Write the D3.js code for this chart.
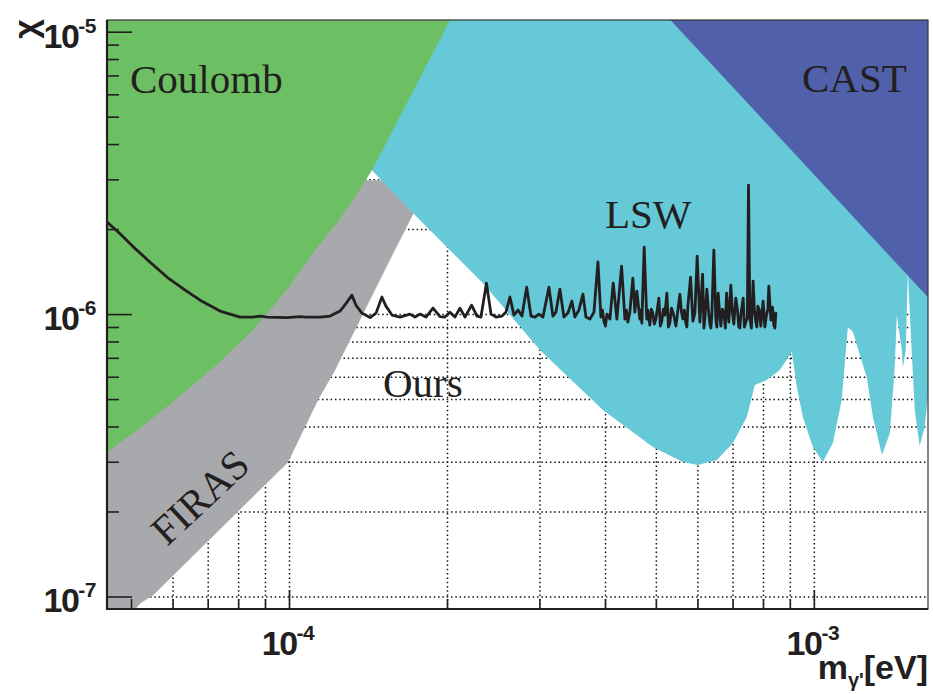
<!DOCTYPE html>
<html><head><meta charset="utf-8">
<script src="https://cdn.jsdelivr.net/npm/d3@7"></script>
<style>body{margin:0;background:#fff}</style>
</head><body>
<svg id="chart" width="933" height="694"></svg>
<script>
// ---------- data ----------
const xDomain = [4.5e-5, 1.65e-3];
const yDomain = [9.03e-8, 1.1e-5];

const xMajorTicks = [1e-4, 1e-3];
const xMajorExps = ["-4", "-3"];
const xMinorTicks = [5e-5, 6e-5, 7e-5, 8e-5, 9e-5, 2e-4, 3e-4, 4e-4, 5e-4, 6e-4, 7e-4, 8e-4, 9e-4];
const yMajorTicks = [1e-7, 1e-6, 1e-5];
const yMajorExps = ["-7", "-6", "-5"];
const yMinorTicks = [2e-7, 3e-7, 4e-7, 5e-7, 6e-7, 7e-7, 8e-7, 9e-7, 2e-6, 3e-6, 4e-6, 5e-6, 6e-6, 7e-6, 8e-6, 9e-6];

const coulombMass = [4.4e-5, 4.5e-5, 5.26e-5, 6.07e-5, 7.275e-5, 8.54e-5, 9.89e-5, 1.121e-4, 1.224e-4, 1.324e-4, 1.439e-4, 1.700e-4, 2.026e-4, 2.117e-4, 4.4e-5];
const coulombChi  = [3.1e-7, 3.25e-7, 4.013e-7, 4.96e-7, 6.60e-7, 8.78e-7, 1.216e-6, 1.684e-6, 2.065e-6, 2.532e-6, 3.234e-6, 5.86e-6, 1.098e-5, 1.292e-5, 1.292e-5];

const firasMass = [5.06e-5, 5.22e-5, 5.51e-5, 9.96e-5, 1.136e-4, 1.224e-4, 1.591e-4, 1.86e-4, 4.4e-5, 4.4e-5];
const firasChi  = [8.9e-8, 9.48e-8, 1.01e-7, 2.99e-7, 4.96e-7, 6.33e-7, 1.684e-6, 2.98e-6, 2.98e-6, 8.9e-8];

const lswMass = [7.39e-5, 1.439e-4, 1.722e-4, 2.342e-4, 3.006e-4, 3.963e-4, 4.935e-4, 5.629e-4, 6.012e-4, 6.533e-4,
  7.01e-4, 7.452e-4, 7.72e-4, 8.136e-4, 8.613e-4, 9.08e-4, 9.281e-4, 9.528e-4, 9.956e-4, 1.040e-3,
  1.087e-3, 1.130e-3, 1.161e-3, 1.187e-3, 1.262e-3, 1.296e-3, 1.348e-3, 1.396e-3, 1.426e-3, 1.439e-3,
  1.471e-3, 1.477e-3, 1.497e-3, 1.510e-3, 1.530e-3, 1.557e-3, 1.591e-3, 1.626e-3, 1.663e-3, 1.7e-3];
const lswChi = [1.221e-5, 3.234e-6, 2.278e-6, 1.287e-6, 7.458e-7, 4.572e-7, 3.382e-7, 2.993e-7, 2.921e-7, 3.042e-7,
  3.494e-7, 4.319e-7, 5.606e-7, 5.84e-7, 6.333e-7, 7.336e-7, 5.515e-7, 4.319e-7, 3.382e-7, 2.993e-7,
  3.494e-7, 4.96e-7, 8.994e-7, 8.637e-7, 5.937e-7, 4.319e-7, 3.168e-7, 3.792e-7, 6.49e-7, 9.92e-7,
  7.458e-7, 6.437e-7, 7.458e-7, 1.409e-6, 8.563e-7, 4.572e-7, 3.41e-7, 3.981e-7, 5.84e-7, 1.3e-5];

const castMass = [5.0e-4, 1.7e-3, 1.7e-3];
const castChi  = [1.25e-5, 1.08e-6, 1.25e-5];

const oursMass = [4.50e-5, 4.77e-5, 5.05e-5, 5.43e-5, 5.86e-5, 6.34e-5, 6.77e-5, 7.39e-5, 8.07e-5, 8.54e-5,
  8.81e-5, 9.08e-5, 9.91e-5, 1.049e-4, 1.073e-4, 1.146e-4, 1.197e-4, 1.251e-4, 1.290e-4, 1.318e-4,
  1.341e-4, 1.377e-4, 1.427e-4, 1.465e-4, 1.503e-4, 1.530e-4, 1.571e-4, 1.627e-4, 1.700e-4, 1.738e-4,
  1.776e-4, 1.824e-4, 1.881e-4, 1.940e-4, 1.982e-4, 2.026e-4, 2.071e-4, 2.117e-4, 2.164e-4, 2.228e-4,
  2.281e-4, 2.321e-4, 2.378e-4, 2.426e-4, 2.480e-4, 2.545e-4, 2.590e-4, 2.636e-4, 2.683e-4, 2.731e-4,
  2.779e-4, 2.837e-4, 2.891e-4, 2.942e-4, 2.994e-4, 3.047e-4, 3.128e-4, 3.183e-4, 3.225e-4, 3.282e-4,
  3.340e-4, 3.399e-4, 3.459e-4, 3.505e-4, 3.567e-4, 3.631e-4, 3.679e-4, 3.744e-4, 3.811e-4, 3.878e-4,
  3.929e-4, 3.981e-4, 4.034e-4, 4.087e-4, 4.147e-4, 4.214e-4, 4.302e-4, 4.365e-4, 4.422e-4, 4.461e-4,
  4.520e-4, 4.560e-4, 4.600e-4, 4.661e-4, 4.702e-4, 4.750e-4, 4.805e-4, 4.869e-4, 4.933e-4, 5.000e-4,
  5.066e-4, 5.133e-4, 5.201e-4, 5.248e-4, 5.317e-4, 5.388e-4, 5.459e-4, 5.556e-4, 5.629e-4, 5.703e-4,
  5.754e-4, 5.822e-4, 5.882e-4, 5.934e-4, 5.994e-4, 6.065e-4, 6.138e-4, 6.200e-4, 6.254e-4, 6.337e-4,
  6.392e-4, 6.449e-4, 6.506e-4, 6.572e-4, 6.650e-4, 6.738e-4, 6.818e-4, 6.887e-4, 6.947e-4, 7.039e-4,
  7.100e-4, 7.194e-4, 7.261e-4, 7.334e-4, 7.420e-4, 7.468e-4, 7.508e-4, 7.551e-4, 7.661e-4, 7.752e-4,
  7.821e-4, 7.924e-4, 8.004e-4, 8.117e-4, 8.208e-4, 8.281e-4, 8.342e-4, 8.390e-4, 8.464e-4];
const oursChi = [2.12e-6, 1.92e-6, 1.73e-6, 1.53e-6, 1.35e-6, 1.216e-6, 1.12e-6, 1.025e-6, 9.76e-7, 9.76e-7,
  9.84e-7, 9.76e-7, 9.72e-7, 9.80e-7, 9.76e-7, 9.76e-7, 9.84e-7, 1.025e-6, 1.103e-6, 1.167e-6,
  1.076e-6, 1.008e-6, 9.72e-7, 1.008e-6, 1.149e-6, 1.067e-6, 9.92e-7, 9.76e-7, 1.0e-6, 9.76e-7,
  1.0e-6, 9.76e-7, 1.050e-6, 9.80e-7, 9.76e-7, 1.016e-6, 9.76e-7, 1.050e-6, 9.76e-7, 1.076e-6,
  9.84e-7, 9.76e-7, 1.287e-6, 1.0e-6, 9.76e-7, 9.84e-7, 1.016e-6, 1.149e-6, 9.92e-7, 1.033e-6,
  9.84e-7, 1.246e-6, 9.84e-7, 9.76e-7, 1.0e-6, 9.76e-7, 1.246e-6, 9.84e-7, 1.016e-6, 1.226e-6,
  9.76e-7, 1.008e-6, 1.112e-6, 9.76e-7, 1.033e-6, 1.177e-6, 9.76e-7, 9.60e-7, 1.016e-6, 1.531e-6,
  9.76e-7, 9.44e-7, 1.0e-6, 9.60e-7, 1.287e-6, 9.60e-7, 1.479e-6, 9.60e-7, 9.37e-7, 1.016e-6,
  1.341e-6, 1.016e-6, 1.206e-6, 9.60e-7, 9.29e-7, 1.727e-6, 9.60e-7, 9.14e-7, 1.008e-6, 9.60e-7,
  1.139e-6, 9.44e-7, 9.92e-7, 1.187e-6, 9.29e-7, 1.016e-6, 9.07e-7, 1.177e-6, 9.60e-7, 9.29e-7,
  1.067e-6, 1.352e-6, 9.44e-7, 1.008e-6, 1.604e-6, 9.37e-7, 1.385e-6, 9.68e-7, 1.226e-6, 9.22e-7,
  9.92e-7, 1.685e-6, 9.52e-7, 1.187e-6, 9.07e-7, 1.016e-6, 1.187e-6, 9.37e-7, 1.267e-6, 9.22e-7,
  1.139e-6, 9.00e-7, 1.0e-6, 1.139e-6, 9.37e-7, 9.68e-7, 2.862e-6, 9.68e-7, 1.309e-6, 9.37e-7,
  1.067e-6, 9.07e-7, 1.112e-6, 9.84e-7, 1.256e-6, 9.52e-7, 1.059e-6, 9.14e-7, 1.008e-6];
const oursNoiseMass = [3.955e-4, 4.008e-4, 4.394e-4, 4.682e-4, 4.827e-4, 4.901e-4, 4.966e-4, 5.033e-4, 5.099e-4, 5.167e-4,
  5.283e-4, 5.353e-4, 5.424e-4, 5.508e-4, 5.592e-4, 5.666e-4, 5.729e-4, 6.173e-4, 6.295e-4, 6.365e-4,
  6.534e-4, 6.607e-4, 6.694e-4, 6.782e-4, 6.857e-4, 6.994e-4, 7.149e-4, 7.228e-4, 7.372e-4, 7.603e-4,
  7.702e-4, 7.787e-4, 7.873e-4, 8.066e-4, 8.172e-4, 8.427e-4];
const oursNoiseChi = [1.033e-6, 9.07e-7, 1.033e-6, 1.033e-6, 1.033e-6, 1.041e-6, 9.22e-7, 1.041e-6, 9.07e-7, 1.041e-6,
  9.00e-7, 1.050e-6, 9.68e-7, 1.033e-6, 1.025e-6, 1.033e-6, 9.00e-7, 8.92e-7, 1.041e-6, 8.92e-7,
  9.00e-7, 1.033e-6, 1.041e-6, 8.92e-7, 1.033e-6, 1.016e-6, 1.041e-6, 8.92e-7, 9.00e-7, 8.92e-7,
  1.041e-6, 9.00e-7, 1.033e-6, 9.00e-7, 1.041e-6, 8.92e-7];

const regionLabels = ["Coulomb", "FIRAS", "LSW", "Ours", "CAST"];

// ---------- drawing ----------
const L = 107, R = 928, T = 20, B = 609;
const W = R - L, H = B - T;
const ink = "#231f20";
const svg = d3.select("#chart");
const x = d3.scaleLog().domain(xDomain).range([L, R]);
const y = d3.scaleLog().domain(yDomain).range([B, T]);

svg.append("defs").append("clipPath").attr("id", "clip")
  .append("rect").attr("x", L).attr("y", T).attr("width", W).attr("height", H);

// grid
const xGrid = xMinorTicks.concat(xMajorTicks);
const yGrid = yMinorTicks.concat(yMajorTicks);
const grid = svg.append("g").attr("clip-path", "url(#clip)");
grid.append("g").attr("transform", `translate(0,${B})`)
  .call(d3.axisBottom(x).tickValues(xGrid).tickSize(-H).tickFormat(""))
  .call(g => g.select(".domain").remove());
grid.append("g").attr("transform", `translate(${L},0)`)
  .call(d3.axisLeft(y).tickValues(yGrid).tickSize(-W).tickFormat(""))
  .call(g => g.select(".domain").remove());
grid.selectAll("line").attr("stroke", "#111").attr("stroke-width", 1.5).attr("stroke-dasharray", "1.5,2.8");

// regions
const poly = d3.line().x(d => x(d[0])).y(d => y(d[1])).curve(d3.curveLinearClosed);
const areas = svg.append("g").attr("clip-path", "url(#clip)");
areas.append("path").attr("d", poly(d3.zip(firasMass, firasChi))).attr("fill", "#a8a9ac");
areas.append("path").attr("d", poly(d3.zip(lswMass, lswChi))).attr("fill", "#66c9d8");
areas.append("path").attr("d", poly(d3.zip(coulombMass, coulombChi))).attr("fill", "#6cbf62");
areas.append("path").attr("d", poly(d3.zip(castMass, castChi))).attr("fill", "#5160ab");

// our curve
const oursPts = d3.zip(oursMass.concat(oursNoiseMass), oursChi.concat(oursNoiseChi))
  .sort((a, b) => a[0] - b[0]);
const line = d3.line().x(d => x(d[0])).y(d => y(d[1]));
areas.append("path").attr("d", line(oursPts))
  .attr("fill", "none").attr("stroke", ink).attr("stroke-width", 2.8)
  .attr("stroke-linejoin", "round").attr("stroke-linecap", "round");

// region labels
const serif = "'Liberation Serif','Times New Roman',serif";
const lab = (t, px, py, rot) => {
  const e = svg.append("text").text(t).attr("font-family", serif).attr("font-size", 41).attr("fill", ink);
  if (rot) e.attr("transform", `translate(${px},${py}) rotate(${rot})`);
  else e.attr("x", px).attr("y", py);
};
lab(regionLabels[0], 130, 93);
lab(regionLabels[1], 167, 547, -43);
lab(regionLabels[2], 605, 228);
lab(regionLabels[3], 383, 397);
lab(regionLabels[4], 802, 92);

// axes
const axes = svg.append("g");
const style = g => { g.selectAll("line").attr("stroke", ink).attr("stroke-width", 1.6); g.select(".domain").remove(); };
axes.append("g").attr("transform", `translate(0,${B})`)
  .call(d3.axisBottom(x).tickValues(xMinorTicks).tickSize(-10).tickFormat("")).call(style);
axes.append("g").attr("transform", `translate(0,${B})`)
  .call(d3.axisBottom(x).tickValues(xMajorTicks).tickSize(-19).tickFormat("")).call(style);
axes.append("g").attr("transform", `translate(${L},0)`)
  .call(d3.axisLeft(y).tickValues(yMinorTicks).tickSize(-12).tickFormat("")).call(style);
axes.append("g").attr("transform", `translate(${L},0)`)
  .call(d3.axisLeft(y).tickValues(yMajorTicks).tickSize(-25).tickFormat("")).call(style);

// frame
svg.append("rect").attr("x", L).attr("y", T).attr("width", W).attr("height", H)
  .attr("fill", "none").attr("stroke", "#333").attr("stroke-width", 1.2);
svg.append("line").attr("x1", L).attr("x2", L).attr("y1", T).attr("y2", B + 1).attr("stroke", ink).attr("stroke-width", 2.2);
svg.append("line").attr("x1", L).attr("x2", R).attr("y1", B).attr("y2", B).attr("stroke", ink).attr("stroke-width", 2.2);

// tick labels
const sans = "'Liberation Sans',Arial,Helvetica,sans-serif";
yMajorTicks.forEach((v, i) => {
  const t = svg.append("text").attr("x", 96).attr("y", y(v) + 16)
    .attr("text-anchor", "end").attr("font-family", sans).attr("font-weight", "bold")
    .attr("font-size", 34).attr("fill", ink).attr("letter-spacing", -1.5);
  t.append("tspan").text("10");
  t.append("tspan").attr("dy", -15).attr("font-size", 21).attr("letter-spacing", -0.5).text(yMajorExps[i]);
});
xMajorTicks.forEach((v, i) => {
  const t = svg.append("text").attr("x", x(v) - 1).attr("y", 655)
    .attr("text-anchor", "middle").attr("font-family", sans).attr("font-weight", "bold")
    .attr("font-size", 34).attr("fill", ink).attr("letter-spacing", -1.5);
  t.append("tspan").text("10");
  t.append("tspan").attr("dy", -15).attr("font-size", 21).attr("letter-spacing", -0.5).text(xMajorExps[i]);
});

// axis titles
const xt = svg.append("text").attr("x", 928).attr("y", 679).attr("text-anchor", "end")
  .attr("font-family", sans).attr("font-weight", "bold").attr("font-size", 34).attr("fill", ink);
xt.append("tspan").text("m");
xt.append("tspan").attr("dy", 8).attr("font-size", 20).text("γ'");
xt.append("tspan").attr("dy", -8).text("[eV]");

svg.append("text").attr("transform", "translate(25,29) rotate(-90)")
  .attr("text-anchor", "middle").attr("dominant-baseline", "central")
  .attr("font-family", sans).attr("font-weight", "bold").attr("font-size", 34).attr("fill", ink).text("χ");
</script>
</body></html>
